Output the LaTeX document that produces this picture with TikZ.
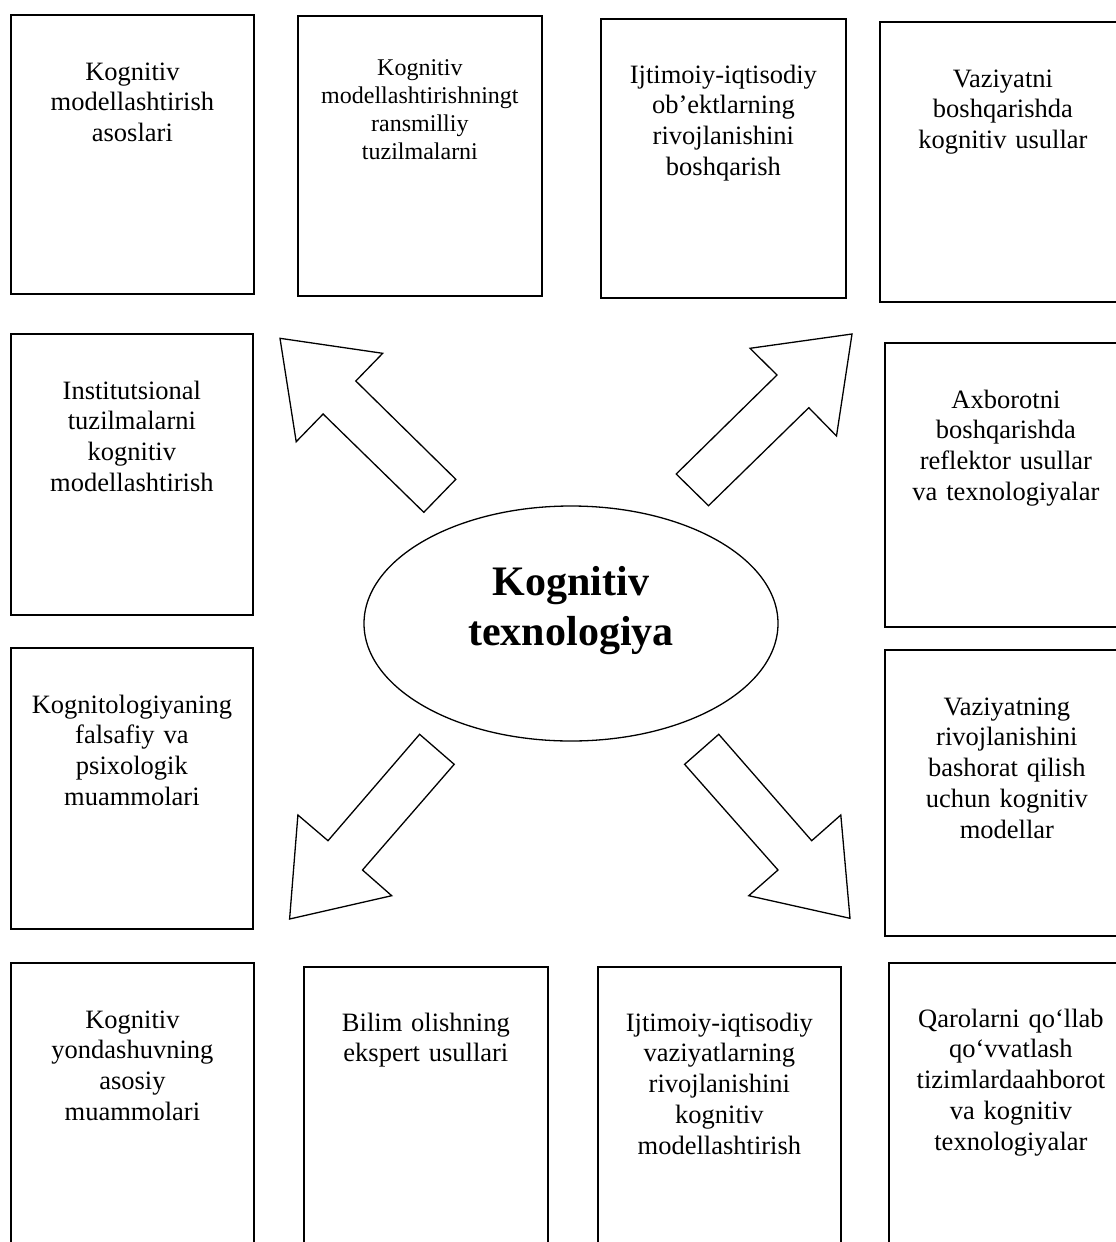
\documentclass[tikz,border=0pt]{standalone}
\usepackage{fontspec}
\setmainfont{Liberation Serif}
\usetikzlibrary{shapes.geometric}
\begin{document}
\begin{tikzpicture}[x=1pt,y=-1pt,
  panel/.style={draw=black, line width=1.8pt, inner sep=0pt, anchor=north west},
  boxtext/.style={anchor=base, align=center, text width=236pt, inner sep=0pt,
                  font=\fontsize{26.5}{30.8}\selectfont},
  smalltext/.style={boxtext, font=\fontsize{24}{28}\selectfont},
  blockarrow/.style={draw=black, line width=1.3pt, fill=white, line join=miter},
  core/.style={draw=black, ellipse, line width=1.3pt, inner sep=0pt,
               minimum width=414pt, minimum height=235pt}
]
\useasboundingbox (0,0) rectangle (1116,1242);
\clip (0,0) rectangle (1116,1242);
\fill[white] (0,0) rectangle (1116,1242);

% top row
\node[panel, minimum width=243pt, minimum height=279pt] (b1) at (10,14) {};
\node[boxtext] (t1) at ([yshift=-66pt]b1.north) {Kognitiv\\modellashtirish\\asoslari};

\node[panel, minimum width=244pt, minimum height=280pt] (b2) at (297,15) {};
\node[smalltext] (t2) at ([yshift=-60pt]b2.north) {Kognitiv\\modellashtirishningt\\ransmilliy\\tuzilmalarni};

\node[panel, minimum width=245pt, minimum height=279pt] (b3) at (600,18) {};
\node[boxtext] (t3) at ([yshift=-65pt]b3.north) {Ijtimoiy-iqtisodiy\\ob’ektlarning\\rivojlanishini\\boshqarish};

\node[panel, minimum width=246pt, minimum height=280pt] (b4) at (879,21) {};
\node[boxtext] (t4) at ([yshift=-66pt]b4.north) {Vaziyatni\\boshqarishda\\kognitiv usullar};

% left column
\node[panel, minimum width=242pt, minimum height=281pt] (b5) at (10,333) {};
\node[boxtext] (t5) at ([yshift=-66pt]b5.north) {Institutsional\\tuzilmalarni\\kognitiv\\modellashtirish};

\node[panel, minimum width=242pt, minimum height=281pt] (b6) at (10,647) {};
\node[boxtext] (t6) at ([yshift=-66pt]b6.north) {Kognitologiyaning\\falsafiy va\\psixologik\\muammolari};

% right column
\node[panel, minimum width=242pt, minimum height=284pt] (b7) at (884,342) {};
\node[boxtext] (t7) at ([yshift=-66pt]b7.north) {Axborotni\\boshqarishda\\reflektor usullar\\va texnologiyalar};

\node[panel, minimum width=244pt, minimum height=286pt] (b8) at (884,649) {};
\node[boxtext] (t8) at ([yshift=-66pt]b8.north) {Vaziyatning\\rivojlanishini\\bashorat qilish\\uchun kognitiv\\modellar};

% bottom row
\node[panel, minimum width=243pt, minimum height=300pt] (b9) at (10,962) {};
\node[boxtext] (t9) at ([yshift=-66pt]b9.north) {Kognitiv\\yondashuvning\\asosiy\\muammolari};

\node[panel, minimum width=244pt, minimum height=300pt] (b10) at (303,966) {};
\node[boxtext] (t10) at ([yshift=-65pt]b10.north) {Bilim olishning\\ekspert usullari};

\node[panel, minimum width=243pt, minimum height=300pt] (b11) at (597,966) {};
\node[boxtext] (t11) at ([yshift=-65pt]b11.north) {Ijtimoiy-iqtisodiy\\vaziyatlarning\\rivojlanishini\\kognitiv\\modellashtirish};

\node[panel, minimum width=244pt, minimum height=300pt] (b12) at (888,962) {};
\node[boxtext] (t12) at ([yshift=-65pt]b12.north) {Qarolarni qo‘llab\\qo‘vvatlash\\tizimlardaahborot\\va kognitiv\\texnologiyalar};

% central ellipse
\node[core] (c) at (571,623.5) {};
\node[anchor=base, align=center, text width=400pt, inner sep=0pt,
      font=\fontsize{42}{50}\selectfont\bfseries] (ct) at (571,595) {Kognitiv\\texnologiya};

% block arrows pointing out of the centre
\draw[blockarrow] (280,338.3) -- (382.7,353.3) -- (355.8,381) -- (455.8,479.3)
  -- (423.8,512.3) -- (323.1,414) -- (296.2,441.7) -- cycle;
\draw[blockarrow] (852,334) -- (750,348.3) -- (777,375) -- (676.2,474)
  -- (708.5,505.7) -- (808.8,407.7) -- (836.5,436) -- cycle;
\draw[blockarrow] (419.6,734.3) -- (454.2,764.3) -- (362.5,870) -- (391.7,895.7)
  -- (289.6,919) -- (297.9,815) -- (328,840.7) -- cycle;
\draw[blockarrow] (718.75,734.3) -- (684.6,764.3) -- (778,870) -- (748.75,895.7)
  -- (850,918.3) -- (840.8,815) -- (811.7,840.7) -- cycle;
\end{tikzpicture}
\end{document}
